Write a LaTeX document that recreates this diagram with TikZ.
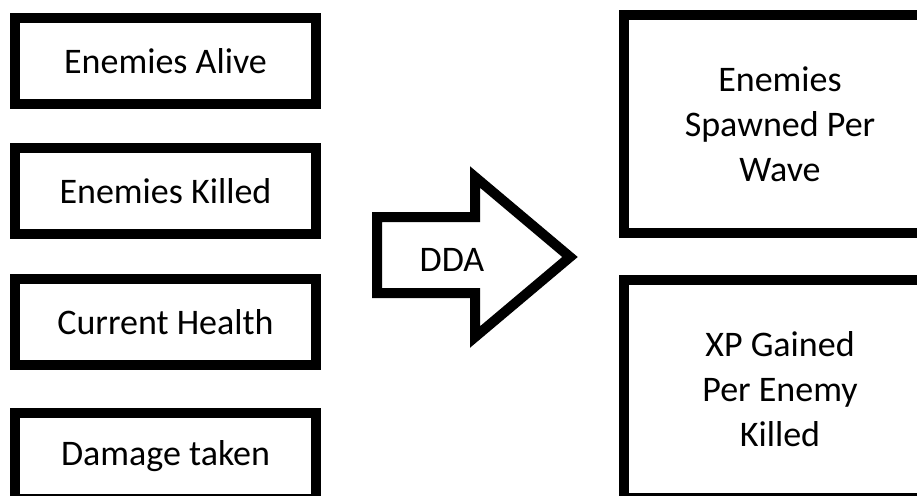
\documentclass[tikz,border=0pt]{standalone}
\usepackage{fontspec}
\setmainfont{Carlito}
\begin{document}
\begin{tikzpicture}[x=1pt,y=-1pt,
  inbox/.style={draw=black, line width=10pt, rectangle, minimum width=301pt, minimum height=86pt, inner sep=0pt, align=center, font=\fontsize{36}{45}\selectfont},
  outbox/.style={draw=black, line width=10pt, rectangle, minimum width=312pt, minimum height=218pt, inner sep=0pt, align=center, font=\fontsize{36}{45}\selectfont},
  arrowshape/.style={draw=black, line width=10pt, line join=miter, fill=white},
  lbl/.style={inner sep=0pt, font=\fontsize{36}{45}\selectfont}]
\useasboundingbox[fill=white] (0,0) rectangle (917,495);
\node[inbox] (alive) at (165.5,61) {Enemies Alive};
\node[inbox] (killed) at (165.5,191) {Enemies Killed};
\node[inbox] (health) at (165.5,322) {Current Health};
\node[inbox] (damage) at (165.5,456) {Damage taken};
\node[outbox] (spawned) at (780,124) {Enemies\\Spawned Per\\Wave};
\node[outbox] (xp) at (780,389) {XP Gained\\Per Enemy\\Killed};
\draw[arrowshape] (377,217) -- (475,217) -- (475,177) -- (570,257) -- (475,337) -- (475,293) -- (377,293) -- cycle;
\node[lbl] (dda) at (452,260) {DDA};
\end{tikzpicture}
\end{document}
